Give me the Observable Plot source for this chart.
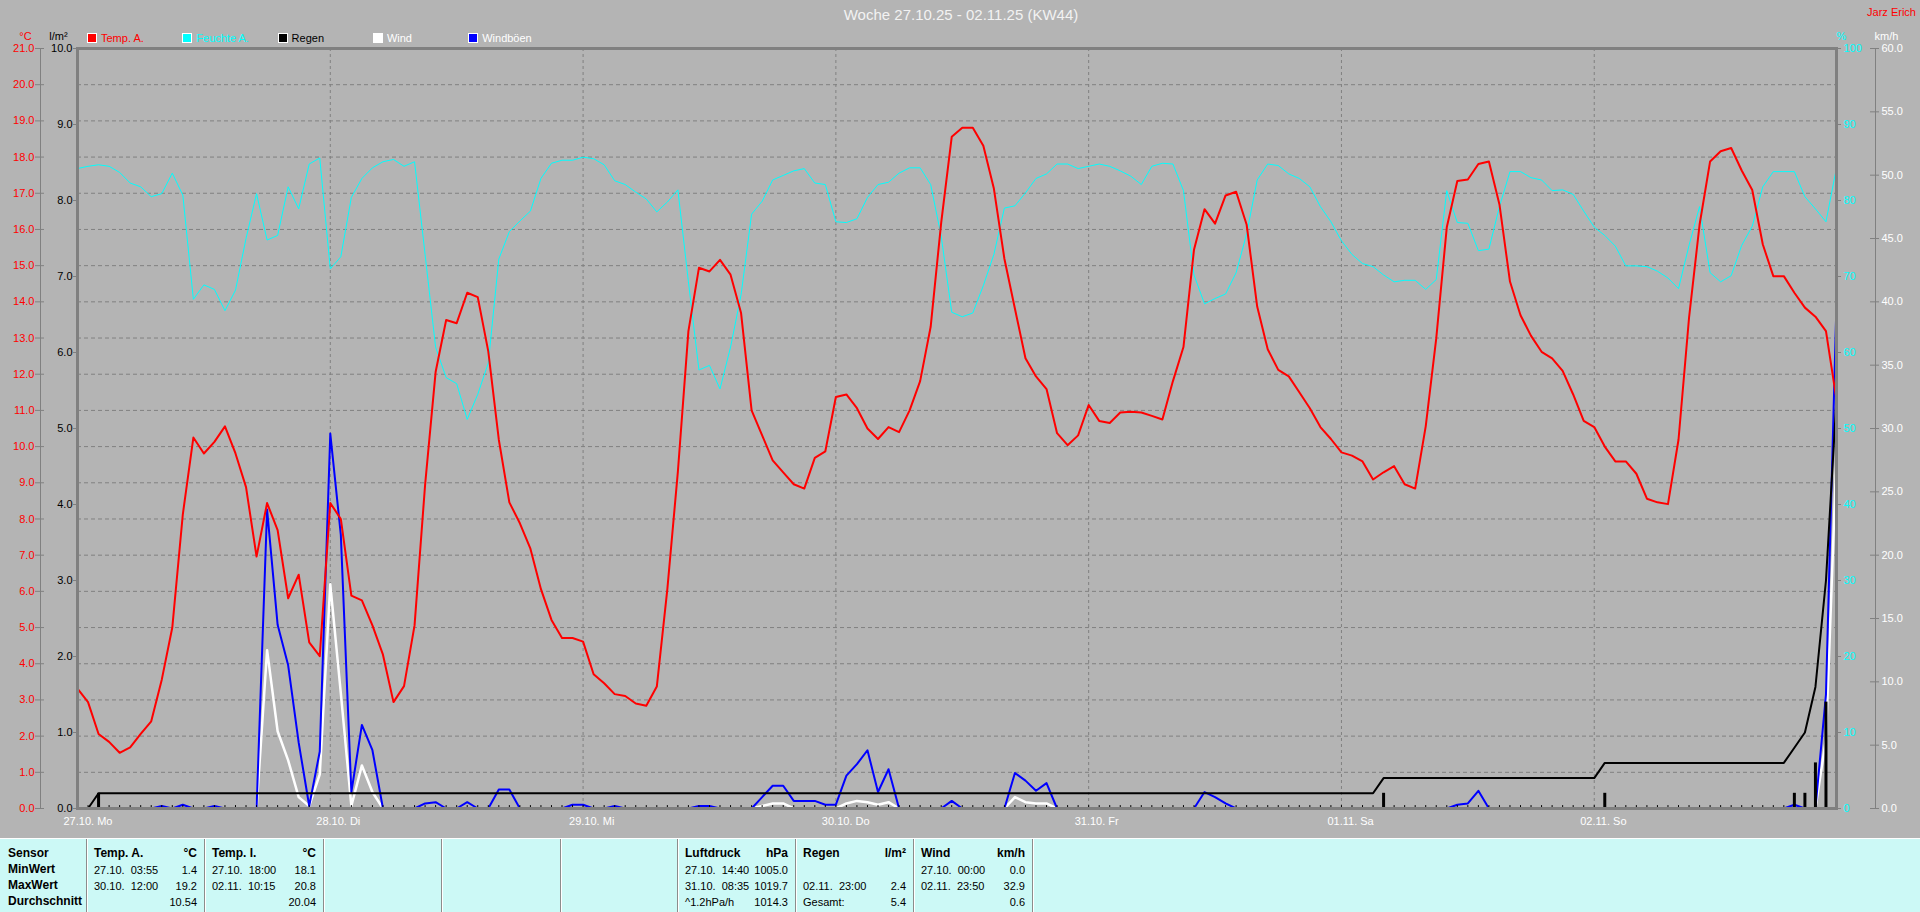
<!DOCTYPE html>
<html><head><meta charset="utf-8">
<script src="https://cdn.jsdelivr.net/npm/d3@7"></script>
<script src="https://cdn.jsdelivr.net/npm/@observablehq/plot@0.6"></script>
<style>
html,body{margin:0;padding:0;background:#b4b4b4;width:1920px;height:912px;overflow:hidden;font-family:"Liberation Sans",Arial,sans-serif;}
#wrap{position:relative;width:1920px;height:912px;}
#wrap svg{position:absolute;left:0;top:0;}
.ov{position:absolute;white-space:pre;font-size:11px;line-height:12px;}
#table{position:absolute;left:0;top:838px;width:1920px;height:74px;background:#ccf9f6;border-top:1px solid #fff;box-sizing:border-box;}
.tc{position:absolute;white-space:pre;font-size:11px;line-height:12px;color:#000;}
.tb{font-weight:bold;font-size:12px;}
.sep{position:absolute;top:0;width:1px;height:74px;background:#8c8c8c;border-right:1px solid #fff;}
.sw{position:absolute;width:10px;height:10px;box-sizing:border-box;border:1px solid #fff;}
</style></head><body><div id="wrap"></div>
<script>
// ---------- DATA ----------
const weekTitle = "Woche 27.10.25 - 02.11.25 (KW44)";
const author = "Jarz Erich";
const dayLabels = ["27.10. Mo", "28.10. Di", "29.10. Mi", "30.10. Do", "31.10. Fr", "01.11. Sa", "02.11. So"];
const seriesNames = ["Temp. A.", "Feuchte A.", "Regen", "Wind", "Windböen"];

// hourly values from 27.10.2025 00:00 to 02.11.2025 23:00
const tempA = [
  3.31, 2.94, 2.06, 1.84, 1.54, 1.69, 2.06, 2.41, 3.56, 5.0,
  8.13, 10.25, 9.81, 10.13, 10.56, 9.81, 8.88, 6.96, 8.44, 7.69,
  5.81, 6.46, 4.59, 4.21, 8.44, 8.0, 5.88, 5.75, 5.06, 4.25,
  2.94, 3.38, 5.06, 8.94, 12.06, 13.5, 13.41, 14.25, 14.13, 12.63,
  10.19, 8.46, 7.88, 7.18, 6.06, 5.21, 4.71, 4.71, 4.61, 3.71,
  3.46, 3.16, 3.11, 2.90, 2.84, 3.37, 6.06, 9.31, 13.19, 14.94,
  14.84, 15.16, 14.75, 13.69, 11.0, 10.31, 9.62, 9.29, 8.96, 8.84,
  9.69, 9.87, 11.37, 11.44, 11.06, 10.5, 10.21, 10.54, 10.4, 11.0,
  11.81, 13.31, 16.19, 18.56, 18.81, 18.81, 18.31, 17.13, 15.19, 13.81,
  12.44, 11.94, 11.59, 10.37, 10.04, 10.31, 11.15, 10.71, 10.65, 10.94,
  10.96, 10.94, 10.85, 10.75, 11.81, 12.75, 15.44, 16.56, 16.16, 16.94,
  17.04, 16.13, 13.87, 12.69, 12.12, 11.94, 11.5, 11.06, 10.54, 10.21,
  9.84, 9.75, 9.59, 9.09, 9.29, 9.46, 8.96, 8.84, 10.56, 12.99,
  16.06, 17.34, 17.38, 17.81, 17.88, 16.69, 14.56, 13.63, 13.06, 12.62,
  12.44, 12.09, 11.44, 10.71, 10.54, 10.0, 9.59, 9.59, 9.25, 8.56,
  8.46, 8.41, 10.19, 13.56, 16.13, 17.88, 18.16, 18.25, 17.63, 17.09,
  15.59, 14.71, 14.71, 14.25, 13.84, 13.59, 13.19, 11.3
];
const humA = [
  84.2, 84.5, 84.7, 84.5, 83.7, 82.3, 81.8, 80.5, 80.9, 83.6,
  80.7, 67.0, 68.9, 68.3, 65.5, 68.2, 75.0, 80.9, 74.8, 75.4,
  81.8, 78.9, 84.8, 85.6, 71.0, 72.6, 80.4, 82.9, 84.3, 85.1,
  85.4, 84.5, 85.1, 72.9, 60.7, 56.7, 55.9, 51.2, 54.5, 58.6,
  72.3, 75.9, 77.3, 78.6, 82.9, 84.9, 85.3, 85.3, 85.7, 85.5,
  84.7, 82.6, 82.1, 81.1, 80.2, 78.5, 79.8, 81.4, 69.3, 57.7,
  58.3, 55.2, 60.7, 67.6, 78.2, 79.9, 82.7, 83.3, 83.9, 84.2,
  82.3, 82.1, 77.2, 77.1, 77.6, 80.4, 82.1, 82.4, 83.6, 84.3,
  84.3, 82.1, 75.3, 65.3, 64.7, 65.2, 68.8, 72.9, 79.0, 79.3,
  81.0, 82.9, 83.5, 84.8, 84.8, 84.2, 84.5, 84.8, 84.5, 83.9,
  83.2, 82.1, 84.5, 84.9, 84.8, 81.3, 70.2, 66.4, 67.1, 67.7,
  70.5, 75.6, 82.7, 84.8, 84.6, 83.5, 82.9, 81.8, 79.2, 77.2,
  74.7, 72.9, 71.7, 71.3, 70.2, 69.3, 69.5, 69.5, 68.3, 69.6,
  81.3, 77.1, 77.0, 73.4, 73.6, 79.2, 83.8, 83.8, 83.0, 82.7,
  81.3, 81.4, 80.8, 78.6, 76.5, 75.4, 74.0, 71.4, 71.4, 71.3,
  70.7, 69.8, 68.4, 74.1, 79.2, 70.5, 69.3, 70.1, 74.1, 76.6,
  81.8, 83.8, 83.8, 83.8, 80.5, 78.9, 77.2, 84.3
];
const windKmh = [
  0,0,0,0,0,0,0,0,0,0,0,0,0,0,0,0,0,0,12.5,6.1,3.8,0.9,0.2,2.7,
  17.7,9.1,0.2,3.4,1.3,0,0,0,0,0,0,0,0,0,0,0,0,0,0,0,0,0,0,0,
  0,0,0,0,0,0,0,0,0,0,0,0,0,0,0,0,0,0.2,0.4,0.4,0,0,0,0,
  0,0.4,0.6,0.5,0.3,0.5,0,0,0,0,0,0,0,0,0,0,0,0.9,0.5,0.4,0.4,0,0,0,
  0,0,0,0,0,0,0,0,0,0,0,0,0,0,0,0,0,0,0,0,0,0,0,0,
  0,0,0,0,0,0,0,0,0,0,0,0,0,0,0,0,0,0,0,0,0,0,0,0,
  0,0,0,0,0,0,0,0,0,0,0,0,0,0,0,0,0,0,0,0,0,0,5.5,28
];
const gustKmh = [
  0,0,0,0,0,0,0,0,0.2,0,0.3,0,0,0.2,0,0,0,0,23.6,14.5,11.3,5.2,0.2,4.5,
  29.6,21.6,1.3,6.6,4.6,0,0,0,0,0.4,0.5,0,0,0.5,0,0,1.5,1.5,0,0,0,0,0,0.3,
  0.3,0,0,0.2,0,0,0,0,0,0,0,0.2,0.2,0,0,0,0,0.9,1.8,1.8,0.6,0.6,0.6,0.3,
  0.3,2.6,3.5,4.6,1.3,3.1,0,0,0,0,0,0.6,0,0,0,0,0,2.8,2.2,1.4,2.0,0,0,0,
  0,0,0,0,0,0,0,0,0,0,0,1.3,0.9,0.4,0,0,0,0,0,0,0,0,0,0,
  0,0,0,0,0,0,0,0,0,0,0,0.3,0.4,1.4,0,0,0,0,0,0,0,0,0,0,
  0,0,0,0,0,0,0,0,0,0,0,0,0,0,0,0,0,0,0,0.3,0,0,9,40
];
const rainHours = [2, 124, 145, 163, 164, 165, 166, 167];
const rainAmounts = [0.2, 0.2, 0.2, 0.2, 0.2, 0.6, 1.4, 2.4];

const tempTicks = [0,1,2,3,4,5,6,7,8,9,10,11,12,13,14,15,16,17,18,19,20,21];
const rainTicks = [0,1,2,3,4,5,6,7,8,9,10];
const humTicks = [0,10,20,30,40,50,60,70,80,90,100];
const windTicks = [0,5,10,15,20,25,30,35,40,45,50,55,60];

const rowLabels = ["Sensor", "MinWert", "MaxWert", "Durchschnitt"];
const sensorNames = ["Temp. A.", "Temp. I.", "Luftdruck", "Regen", "Wind"];
const sensorUnits = ["°C", "°C", "hPa", "l/m²", "km/h"];
const minTimes = ["27.10.  03:55", "27.10.  18:00", "27.10.  14:40", "", "27.10.  00:00"];
const minValues = ["1.4", "18.1", "1005.0", "", "0.0"];
const maxTimes = ["30.10.  12:00", "02.11.  10:15", "31.10.  08:35", "02.11.  23:00", "02.11.  23:50"];
const maxValues = ["19.2", "20.8", "1019.7", "2.4", "32.9"];
const avgLabels = ["", "", "^1.2hPa/h", "Gesamt:", ""];
const avgValues = ["10.54", "20.04", "1014.3", "5.4", "0.6"];

// ---------- BUILD ----------
const HOUR = 3600e3, start = Date.UTC(2025, 9, 27, 0);
const t = i => new Date(start + i * HOUR);
const rainByHour = tempA.map(() => 0);
rainHours.forEach((h, k) => rainByHour[h] = rainAmounts[k]);
const rainSum = Array.from(d3.cumsum(rainByHour));
const rows = tempA.map((v, i) => ({date: t(i), temp: v, hum: humA[i], wind: windKmh[i], gust: gustKmh[i], rainSum: rainSum[i]}));
const rainRows = rainHours.map((h, k) => ({date: t(h), amount: rainAmounts[k]}));
const dayRows = dayLabels.map((l, i) => ({date: t(24 * i), label: l}));
const hourDates = tempA.map((_, i) => t(i));

const hum2y = h => h * 21 / 100;
const rain2y = r => r * 2.1;
const wind2y = w => w * 21 / 60;
const fmt1 = d => d.toFixed(1);

const W = 1920, H = 838, ML = 77, MR = 84, MT = 48, MB = 30;
const FW = W - ML - MR;
const GRID = "#808080";

const chart = Plot.plot({
  width: W, height: H,
  marginLeft: ML, marginRight: MR, marginTop: MT, marginBottom: MB,
  style: {background: "transparent", fontFamily: "'Liberation Sans', Arial, sans-serif", fontSize: "11px", overflow: "visible"},
  x: {type: "utc", domain: [t(0), t(tempA.length - 1)], axis: null},
  y: {domain: [0, 21], axis: null},
  marks: [
    Plot.ruleY(tempTicks.slice(1, -1), {y: d => d, stroke: GRID, strokeDasharray: "4,3"}),
    Plot.ruleX(dayRows.slice(1), {x: "date", stroke: GRID, strokeDasharray: "3,3"}),
    Plot.line(rows, {x: "date", y: d => hum2y(d.hum), stroke: "#00ffff", strokeWidth: 1}),
    Plot.line(rows, {x: "date", y: d => wind2y(d.wind), stroke: "#ffffff", strokeWidth: 2.5}),
    Plot.line(rows, {x: "date", y: d => wind2y(d.gust), stroke: "#0000ff", strokeWidth: 2}),
    Plot.ruleX(hourDates, {x: d => d, y1: 0, y2: 0.08, stroke: "#000"}),
    Plot.line(rows, {x: "date", y: d => rain2y(d.rainSum), stroke: "#000", strokeWidth: 2}),
    Plot.ruleX(rainRows, {x: "date", y1: 0, y2: d => rain2y(d.amount), stroke: "#000", strokeWidth: 3}),
    Plot.line(rows, {x: "date", y: "temp", stroke: "#ff0000", strokeWidth: 2}),
    Plot.frame({stroke: GRID, strokeWidth: 3}),
    // °C axis (far left)
    Plot.ruleX([t(0)], {x: d => d, dx: -37, stroke: GRID}),
    Plot.ruleY(tempTicks, {y: d => d, stroke: GRID, insetLeft: -42, insetRight: FW + 33}),
    Plot.text(tempTicks, {y: d => d, text: fmt1, frameAnchor: "left", dx: -43, textAnchor: "end", fill: "#ff0000"}),
    // l/m² axis
    Plot.ruleY(rainTicks, {y: d => rain2y(d), stroke: GRID, insetLeft: -4, insetRight: FW}),
    Plot.text(rainTicks, {y: d => rain2y(d), text: fmt1, frameAnchor: "left", dx: -5, textAnchor: "end", fill: "#000"}),
    // % axis
    Plot.ruleY(humTicks, {y: d => hum2y(d), stroke: GRID, insetLeft: FW, insetRight: -5}),
    Plot.text(humTicks, {y: d => hum2y(d), text: d => String(d), frameAnchor: "right", dx: 7, textAnchor: "start", fill: "#00ffff"}),
    // km/h axis
    Plot.ruleX([t(tempA.length - 1)], {x: d => d, dx: 39, stroke: GRID}),
    Plot.ruleY(windTicks, {y: d => wind2y(d), stroke: GRID, insetLeft: FW + 34, insetRight: -43}),
    Plot.text(windTicks, {y: d => wind2y(d), text: fmt1, frameAnchor: "right", dx: 45, textAnchor: "start", fill: "#ffffff"}),
    // unit labels
    Plot.text(["°C"], {text: d => d, frameAnchor: "top-left", dx: -52, dy: -16, textAnchor: "middle", fill: "#ff0000"}),
    Plot.text(["l/m²"], {text: d => d, frameAnchor: "top-left", dx: -19, dy: -16, textAnchor: "middle", fill: "#000"}),
    Plot.text(["%"], {text: d => d, frameAnchor: "top-right", dx: 5, dy: -16, textAnchor: "middle", fill: "#00ffff"}),
    Plot.text(["km/h"], {text: d => d, frameAnchor: "top-right", dx: 50, dy: -16, textAnchor: "middle", fill: "#ffffff"}),
    // day labels
    Plot.text(dayRows, {x: "date", text: "label", frameAnchor: "bottom", dy: 16, dx: -14, textAnchor: "start", fill: "#ffffff"})
  ]
});

const wrap = document.getElementById("wrap");
wrap.appendChild(chart);

function addDiv(parent, cls, text, css) {
  const d = document.createElement("div");
  d.className = cls; d.textContent = text;
  Object.assign(d.style, css);
  parent.appendChild(d);
  return d;
}
// title & author
addDiv(wrap, "ov", weekTitle, {left: "0px", width: "1922px", textAlign: "center", top: "6px", fontSize: "15px", lineHeight: "17px", color: "#f2f2f2"});
addDiv(wrap, "ov", author, {right: "4px", top: "6px", color: "#ff0000"});
// legend
const legendColors = ["#ff0000", "#00ffff", "#000000", "#ffffff", "#0000ff"];
const legendText = ["#ff0000", "#00ffff", "#000000", "#ffffff", "#ffffff"];
seriesNames.forEach((n, i) => {
  const x = 87 + i * 95.3;
  addDiv(wrap, "sw", "", {left: x + "px", top: "33px", background: legendColors[i]});
  addDiv(wrap, "ov", n, {left: (x + 14) + "px", top: "32px", color: legendText[i]});
});

// table
const table = document.createElement("div");
table.id = "table"; wrap.appendChild(table);
const edges = [86, 204, 323, 441, 560, 677, 795, 913, 1032];
edges.forEach(e => addDiv(table, "sep", "", {left: e + "px"}));
const rowTop = [9, 25, 41, 57];
rowLabels.forEach((l, r) => addDiv(table, "tc tb", l, {left: "8px", top: (rowTop[r] - 1) + "px"}));
const slots = [0, 1, 5, 6, 7];
sensorNames.forEach((name, k) => {
  const e0 = edges[slots[k]], e1 = edges[slots[k] + 1];
  const L = e0 + 8, R = 1920 - (e1 - 7);
  addDiv(table, "tc tb", name, {left: L + "px", top: (rowTop[0] - 1) + "px"});
  addDiv(table, "tc tb", sensorUnits[k], {right: R + "px", top: (rowTop[0] - 1) + "px"});
  const lefts = [minTimes[k], maxTimes[k], avgLabels[k]];
  const rights = [minValues[k], maxValues[k], avgValues[k]];
  lefts.forEach((s, r) => { if (s) addDiv(table, "tc", s, {left: L + "px", top: rowTop[r + 1] + "px"}); });
  rights.forEach((s, r) => { if (s) addDiv(table, "tc", s, {right: R + "px", top: rowTop[r + 1] + "px"}); });
});
</script></body></html>
